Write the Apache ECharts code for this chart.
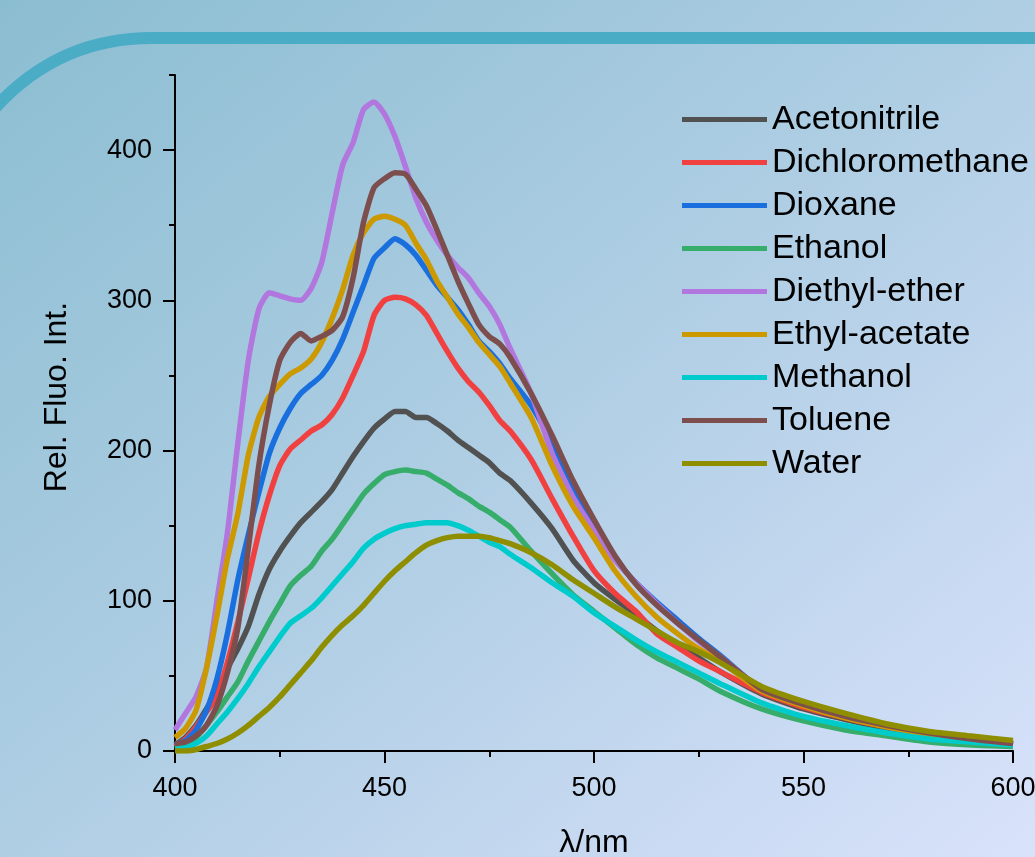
<!DOCTYPE html>
<html>
<head>
<meta charset="utf-8">
<script src="https://cdn.jsdelivr.net/npm/echarts@6/dist/echarts.min.js"></script>
<style>
  html, body { margin: 0; padding: 0; }
  #chart {
    width: 1035px; height: 857px;
    background: linear-gradient(to bottom right, #8BBDD1 0%, #AFCEE4 50%, #D9E2FB 100%);
  }
</style>
</head>
<body>
<div id="chart"></div>
<script>
// ---- data ----
const wavelengths = [400,402.5,405,407.5,410,412.5,415,417.5,420,422.5,425,427.5,430,432.5,435,437.5,440,442.5,445,447.5,450,452.5,455,457.5,460,462.5,465,467.5,470,472.5,475,477.5,480,485,490,495,500,505,510,515,520,525,530,540,550,560,570,580,590,600];

const acetonitrile   = [4,9,17,28,40,55,68,83,104,121,133,143,152,159,166,174,185,196,206,215,221,226,226,222,222,218,213,207,202,197,192,185,180,165,148,127,112,101,91,80,70,62,53,38,28,21,15,11,7,4];
const dichloromethane= [3,8,16,26,36,59,86,115,145,170,190,201,207,213,217,224,235,250,266,290,300,302,301,297,290,278,266,255,246,239,230,220,213,194,168,143,120,105,93,78,69,60,53,39,29,22,16,11,7,4];
const dioxane        = [4,7,14,27,48,78,114,144,172,198,215,228,238,244,250,260,274,292,310,328,335,341,337,330,320,310,302,294,284,273,266,258,248,230,205,176,149,128,112,99,87,75,64,41,31,23,17,12,8,5];
const ethanol        = [2,4,9,17,26,36,46,60,73,86,98,110,117,123,133,141,151,161,171,178,184,186,187,186,185,181,177,172,168,163,159,154,149,133,118,104,93,82,71,62,55,48,40,28,20,14,10,6,4,3];
const diethylEther   = [14,25,36,55,100,145,205,260,294,305,303,301,300,308,325,358,390,405,427,432,424,409,389,368,352,340,330,322,315,305,296,284,268,238,198,169,147,127,112,98,85,73,63,41,31,23,17,12,8,5];
const ethylAcetate   = [9,15,27,55,90,128,158,197,222,236,244,251,255,261,272,288,307,330,345,354,356,354,350,338,327,313,302,291,282,272,264,256,245,222,190,163,142,120,103,89,78,68,60,40,30,22,16,11,8,5];
const methanol       = [1,2,5,10,18,26,35,45,56,66,76,85,90,95,102,110,118,126,135,141,145,148,150,151,152,152,152,150,147,143,139,136,131,122,112,103,92,83,74,66,59,52,45,32,23,17,12,8,6,4];
const toluene        = [5,6,10,17,30,52,82,135,190,230,260,272,278,273,276,280,289,315,352,375,381,385,384,374,363,347,330,313,298,284,276,271,262,238,210,180,154,130,111,97,85,74,63,41,31,23,17,12,8,5];
const water          = [0,0,1,3,5,8,12,17,23,29,36,44,52,60,69,77,84,90,97,105,113,120,126,132,137,140,142,143,143,143,142,140,138,132,124,114,105,96,88,80,72,66,59,43,33,25,18,13,10,7];

const seriesNames  = ['Acetonitrile','Dichloromethane','Dioxane','Ethanol','Diethyl-ether','Ethyl-acetate','Methanol','Toluene','Water'];
const seriesValues = [acetonitrile, dichloromethane, dioxane, ethanol, diethylEther, ethylAcetate, methanol, toluene, water];
const seriesColors = ['#515151','#F14040','#1A6FDF','#37AD6B','#B177DE','#CC9900','#00CBCC','#7D4E4E','#8E8E00'];

const yMajorTicks = [0,100,200,300,400];
const yMinorTicks = [50,150,250,350,450];

// ---- chart ----
const FONT = "'Liberation Sans', Arial, sans-serif";
const chart = echarts.init(document.getElementById('chart'), null, { renderer: 'canvas' });

const series = seriesNames.map((name, i) => ({
  name,
  type: 'line',
  data: wavelengths.map((w, j) => [w, seriesValues[i][j]]),
  symbol: 'none',
  smooth: 0.2,
  lineStyle: { width: 5.5, color: seriesColors[i] },
  itemStyle: { color: seriesColors[i] },
  z: 2 + i
}));

const arcStyle = { stroke: '#4BACC6', lineWidth: 12, fill: null };
const option = {
  backgroundColor: 'transparent',
  animation: false,
  textStyle: { fontFamily: FONT },
  graphic: [{
    type: 'bezierCurve',
    silent: true,
    z: 0,
    shape: { x1: -12, y1: 116, cpx1: 30, cpy1: 66, cpx2: 85, cpy2: 38, x2: 152, y2: 38 },
    style: arcStyle
  }, {
    type: 'line',
    silent: true,
    z: 0,
    shape: { x1: 150, y1: 38, x2: 1045, y2: 38 },
    style: arcStyle
  }],
  grid: { left: 175, right: 22, top: 75, bottom: 106, containLabel: false, outerBoundsMode: 'none' },
  legend: {
    orient: 'vertical',
    left: 677,
    top: 93,
    itemGap: 0,
    itemWidth: 85,
    itemHeight: 5,
    icon: 'rect',
    textStyle: { fontSize: 34, color: '#000', fontFamily: FONT, lineHeight: 43 },
    data: seriesNames
  },
  xAxis: {
    type: 'value',
    min: 400, max: 600, interval: 50,
    name: 'λ/nm',
    nameLocation: 'middle',
    nameGap: 76,
    nameTextStyle: { fontSize: 32, color: '#000', fontFamily: FONT },
    axisLine: { show: true, lineStyle: { color: '#000', width: 2 } },
    axisTick: { show: true, length: 12, lineStyle: { color: '#000', width: 2 } },
    minorTick: { show: true, splitNumber: 2, length: 6, lineStyle: { color: '#000', width: 2 } },
    axisLabel: { fontSize: 27, color: '#000', margin: 24, fontFamily: FONT },
    splitLine: { show: false },
    minorSplitLine: { show: false }
  },
  yAxis: [{
    type: 'value',
    min: 0, max: 450, interval: 50,
    name: 'Rel. Fluo. Int.',
    nameLocation: 'middle',
    nameGap: 102,
    nameTextStyle: { fontSize: 32, color: '#000', fontFamily: FONT, padding: [0, 0, 0, 32] },
    axisLine: { show: true, lineStyle: { color: '#000', width: 2 } },
    axisTick: { show: true, length: 12, lineStyle: { color: '#000', width: 2 }, customValues: yMajorTicks },
    axisLabel: { fontSize: 27, color: '#000', margin: 23, fontFamily: FONT, customValues: yMajorTicks },
    splitLine: { show: false }
  }, {
    type: 'value',
    min: 0, max: 450, interval: 50,
    position: 'left',
    axisLine: { show: false },
    axisTick: { show: true, length: 6, lineStyle: { color: '#000', width: 2 }, customValues: yMinorTicks },
    axisLabel: { show: false },
    splitLine: { show: false }
  }],
  series
};
chart.setOption(option);
</script>
</body>
</html>
